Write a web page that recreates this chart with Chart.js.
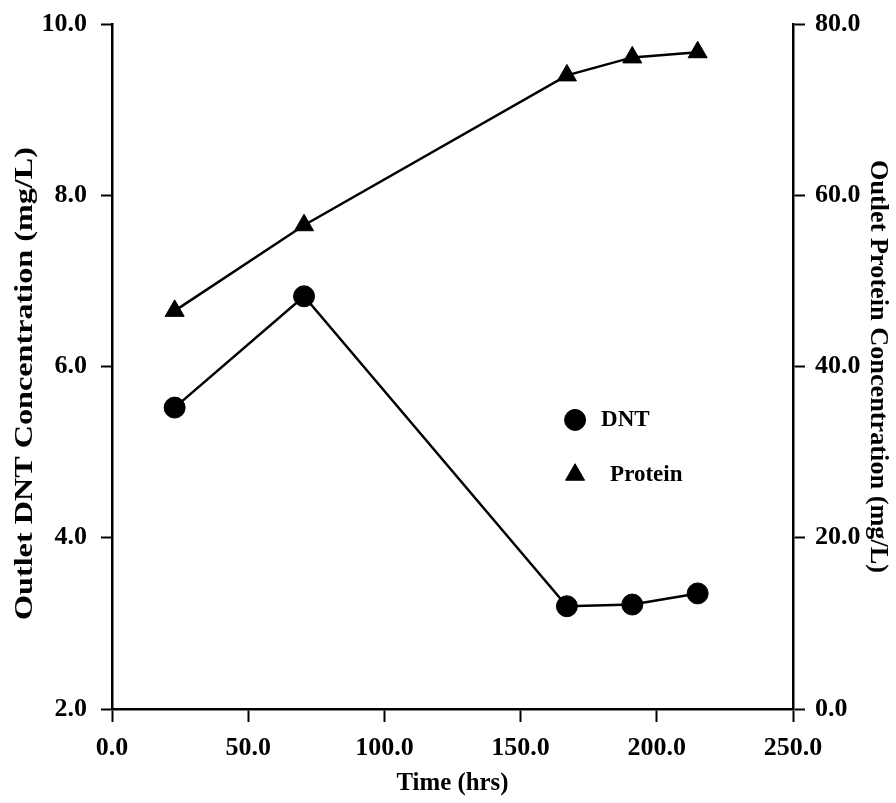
<!DOCTYPE html>
<html>
<head>
<meta charset="utf-8">
<script src="https://cdn.jsdelivr.net/npm/chart.js@4.4.1/dist/chart.umd.min.js"></script>
<style>
  html, body { margin: 0; padding: 0; background: #fff; }
  #wrap { width: 896px; height: 803px; position: relative; }
</style>
</head>
<body>
<div id="wrap"><canvas id="chart"></canvas></div>
<script>
// Values
const timeHrs = [23, 70.5, 167, 191, 215];
const dntMgL = [5.52, 6.82, 3.2, 3.22, 3.35];
const proteinMgL = [46.5, 56.5, 74.0, 76.1, 76.7];

const xTicks = [0, 50, 100, 150, 200, 250];
const dntTicks = [2, 4, 6, 8, 10];
const proteinTicks = [0, 20, 40, 60, 80];

const seriesNames = ["DNT", "Protein"];
const xTitle = "Time (hrs)";
const dntTitle = "Outlet DNT Concentration (mg/L)";
const proteinTitle = "Outlet Protein Concentration (mg/L)";

const FONT = '"Liberation Serif", "Times New Roman", serif';
const INK = "#000";

// axis titles, stretched along their length like the scanned original
const axisTitles = {
  id: "axisTitles",
  afterDraw(c) {
    const { ctx, chartArea: a, width, height } = c;
    const draw = (text, x, y, rot, size, len) => {
      ctx.save();
      ctx.font = `bold ${size}px ${FONT}`;
      const w = ctx.measureText(text).width;
      ctx.translate(x, y);
      ctx.rotate(rot);
      ctx.scale(len / w, 1);
      ctx.fillStyle = INK;
      ctx.textAlign = "center";
      ctx.textBaseline = "middle";
      ctx.fillText(text, 0, 0);
      ctx.restore();
    };
    const midX = (a.left + a.right) / 2;
    const midY = (a.top + a.bottom) / 2;
    draw(xTitle, midX, height - 20, 0, 26, 112);
    draw(dntTitle, 25, midY + 17, -Math.PI / 2, 26, 473);
    draw(proteinTitle, width - 19, midY, Math.PI / 2, 25, 413);
  },
};

// legend sitting inside the plot
const innerLegend = {
  id: "innerLegend",
  afterDatasetsDraw(c) {
    const { ctx, chartArea: a } = c;
    const x = a.left + 0.68 * (a.right - a.left);
    const rows = [0.578, 0.658];
    const gaps = [26, 35];
    c.data.datasets.forEach((ds, i) => {
      const y = a.top + rows[i] * (a.bottom - a.top);
      ctx.save();
      ctx.fillStyle = INK;
      ctx.strokeStyle = INK;
      Chart.helpers.drawPoint(
        ctx,
        { pointStyle: ds.pointStyle, radius: ds.pointRadius, borderWidth: 1, rotation: 0 },
        x,
        y,
      );
      ctx.font = `bold 23px ${FONT}`;
      ctx.textAlign = "left";
      ctx.textBaseline = "middle";
      ctx.fillText(ds.label, x + gaps[i], y);
      ctx.restore();
    });
  },
};

const fixTicks = (values) => (scale) => {
  scale.ticks = values.map((v) => ({ value: v }));
};

// fixed box sizes so the plot area sits where it does in the figure
const fitVertical = (w) => (s) => {
  s.width = w;
  s.paddingTop = 0;
  s.paddingBottom = 0;
};
const fitHorizontal = (h) => (s) => {
  s.height = h;
  s.paddingLeft = 0;
  s.paddingRight = 0;
};

const tickFont = { family: FONT, size: 26, weight: "bold" };
const axisGrid = (len) => ({
  drawOnChartArea: false,
  drawTicks: true,
  tickLength: len,
  tickWidth: 2,
  tickColor: INK,
});
const axisBorder = { display: true, color: INK, width: 2.5 };

const ctx = document.getElementById("chart");

new Chart(ctx, {
  type: "line",
  data: {
    datasets: [
      {
        label: seriesNames[0],
        data: timeHrs.map((t, i) => ({ x: t, y: dntMgL[i] })),
        yAxisID: "y",
        borderColor: INK,
        backgroundColor: INK,
        borderWidth: 2.5,
        tension: 0,
        pointStyle: "circle",
        pointRadius: 10.5,
        pointBorderWidth: 1,
      },
      {
        label: seriesNames[1],
        data: timeHrs.map((t, i) => ({ x: t, y: proteinMgL[i] })),
        yAxisID: "y2",
        borderColor: INK,
        backgroundColor: INK,
        borderWidth: 2.5,
        tension: 0,
        pointStyle: "triangle",
        pointRadius: 11,
        pointBorderWidth: 1,
      },
    ],
  },
  options: {
    responsive: true,
    maintainAspectRatio: false,
    animation: false,
    devicePixelRatio: 1,
    layout: { padding: { top: 24, left: 0, right: 0, bottom: 0 } },
    plugins: {
      legend: { display: false },
      tooltip: { enabled: false },
    },
    scales: {
      x: {
        type: "linear",
        position: "bottom",
        min: xTicks[0],
        max: xTicks[xTicks.length - 1],
        afterBuildTicks: fixTicks(xTicks),
        afterFit: fitHorizontal(94),
        ticks: {
          font: tickFont,
          color: INK,
          padding: 11,
          maxRotation: 0,
          callback: (v) => Number(v).toFixed(1),
        },
        grid: axisGrid(13),
        border: axisBorder,
      },
      y: {
        position: "left",
        min: dntTicks[0],
        max: dntTicks[dntTicks.length - 1],
        afterBuildTicks: fixTicks(dntTicks),
        afterFit: fitVertical(112),
        ticks: {
          font: tickFont,
          color: INK,
          padding: 14,
          callback: (v) => Number(v).toFixed(1),
        },
        grid: axisGrid(11),
        border: axisBorder,
      },
      y2: {
        position: "right",
        min: proteinTicks[0],
        max: proteinTicks[proteinTicks.length - 1],
        afterBuildTicks: fixTicks(proteinTicks),
        afterFit: fitVertical(103),
        ticks: {
          font: tickFont,
          color: INK,
          padding: 10,
          callback: (v) => Number(v).toFixed(1),
        },
        grid: axisGrid(12),
        border: axisBorder,
      },
    },
  },
  plugins: [axisTitles, innerLegend],
});
</script>
</body>
</html>
